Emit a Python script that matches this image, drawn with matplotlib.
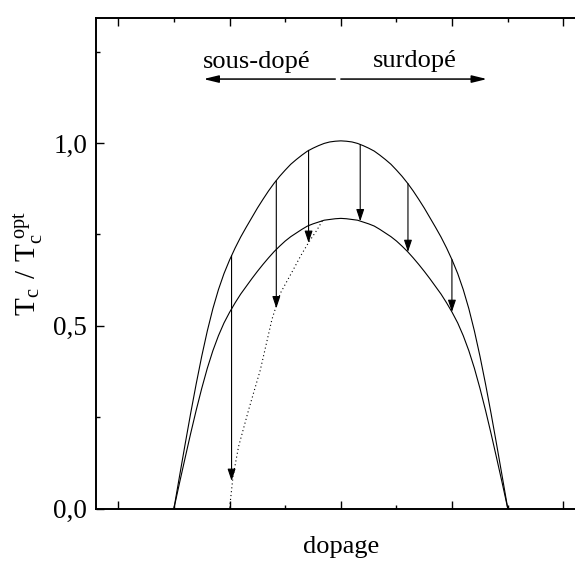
import matplotlib
matplotlib.use('Agg')
import matplotlib.pyplot as plt
from matplotlib.ticker import MultipleLocator

plt.rcParams['font.family'] = ['Liberation Serif', 'DejaVu Serif']
plt.rcParams['mathtext.fontset'] = 'custom'
plt.rcParams['mathtext.rm'] = 'Liberation Serif'
plt.rcParams['mathtext.it'] = 'Liberation Serif:italic'

# doping positions along the domes
dome_x = [0.50, 0.55, 0.60, 0.65, 0.70, 0.75, 0.80, 0.85, 0.90, 0.95,
          1.00, 1.05, 1.10, 1.15, 1.20, 1.25, 1.30, 1.35, 1.40, 1.45,
          1.50, 1.55, 1.60, 1.65, 1.70, 1.75, 1.80, 1.85, 1.90, 1.95,
          2.00, 2.05, 2.10, 2.15, 2.20, 2.25, 2.30, 2.35, 2.40, 2.45,
          2.50, 2.55, 2.60, 2.65, 2.70, 2.75, 2.80, 2.85, 2.90, 2.95,
          3.00, 3.05, 3.10, 3.15, 3.20, 3.25, 3.30, 3.35, 3.40, 3.45, 3.50]
# Tc/Tc_opt, outer dome
outer_y = [0.0, 0.088, 0.175, 0.260, 0.341, 0.417, 0.486, 0.547, 0.599, 0.643,
           0.680, 0.713, 0.743, 0.770, 0.796, 0.822, 0.846, 0.869, 0.890, 0.909,
           0.926, 0.942, 0.955, 0.967, 0.978, 0.986, 0.993, 0.999, 1.003, 1.005,
           1.006, 1.005, 1.003, 0.999, 0.993, 0.986, 0.978, 0.967, 0.955, 0.942,
           0.926, 0.909, 0.890, 0.869, 0.846, 0.822, 0.796, 0.770, 0.743, 0.713,
           0.680, 0.643, 0.599, 0.547, 0.486, 0.417, 0.341, 0.260, 0.175, 0.088, 0.0]
# inner dome
inner_y = [0.0, 0.070, 0.138, 0.205, 0.269, 0.329, 0.384, 0.432, 0.473, 0.508,
           0.537, 0.563, 0.587, 0.608, 0.629, 0.649, 0.668, 0.686, 0.703, 0.718,
           0.732, 0.744, 0.754, 0.764, 0.773, 0.779, 0.784, 0.789, 0.791, 0.793,
           0.794, 0.793, 0.791, 0.789, 0.784, 0.779, 0.773, 0.764, 0.754, 0.744,
           0.732, 0.718, 0.703, 0.686, 0.668, 0.649, 0.629, 0.608, 0.587, 0.563,
           0.537, 0.508, 0.473, 0.432, 0.384, 0.329, 0.269, 0.205, 0.138, 0.070, 0.0]

# dotted branch
dot_x = [1.833, 1.785, 1.710, 1.640, 1.575, 1.456, 1.381, 1.276, 1.171, 1.081,
         1.031, 1.0]
dot_y = [0.787, 0.762, 0.728, 0.692, 0.655, 0.589, 0.518, 0.379, 0.270, 0.170,
         0.088, 0.0]

# vertical arrows: x, start, end
arrow_x = [1.018, 1.420, 1.710, 2.174, 2.603, 2.998]
arrow_start = [0.692, 0.897, 0.980, 0.996, 0.889, 0.681]
arrow_end = [0.076, 0.548, 0.727, 0.786, 0.702, 0.538]

ytick_vals = [0.0, 0.5, 1.0]
ytick_labels = ['0,0', '0,5', '1,0']

fig = plt.figure(figsize=(5.75, 5.61), dpi=100)
ax = fig.add_axes([96 / 575, 52.3 / 561, 489.7 / 575, 490.7 / 561])

ax.plot(dome_x, outer_y, color='k', lw=0.8)
ax.plot(dome_x, inner_y, color='k', lw=0.8)
ax.plot(dot_x, dot_y, color='k', lw=0.8, linestyle=(0, (1, 2.5)))

for x, y0, y1 in zip(arrow_x, arrow_start, arrow_end):
    ax.annotate('', xy=(x, y1), xytext=(x, y0),
                arrowprops=dict(arrowstyle='-|>,head_length=0.72,head_width=0.24',
                                color='k', lw=0.8, shrinkA=0, shrinkB=0,
                                mutation_scale=10))

# doping direction arrows
ax.annotate('', xy=(0.766, 1.175), xytext=(1.95, 1.175),
            arrowprops=dict(arrowstyle='-|>,head_length=0.9,head_width=0.22',
                            color='k', lw=1.1, shrinkA=0, shrinkB=0,
                            mutation_scale=10))
ax.annotate('', xy=(3.313, 1.175), xytext=(2.0, 1.175),
            arrowprops=dict(arrowstyle='-|>,head_length=0.9,head_width=0.22',
                            color='k', lw=1.1, shrinkA=0, shrinkB=0,
                            mutation_scale=10))
ax.text(1.244, 1.205, 'sous-dopé', ha='center', va='baseline', fontsize=19)
ax.text(2.662, 1.209, 'surdopé', ha='center', va='baseline', fontsize=19)

ax.set_xlim(-0.2, 4.2)
ax.set_ylim(0, 1.342)
ax.xaxis.set_major_locator(MultipleLocator(1))
ax.xaxis.set_minor_locator(MultipleLocator(0.5))
ax.set_yticks(ytick_vals)
ax.set_yticklabels(ytick_labels)
ax.yaxis.set_minor_locator(MultipleLocator(0.25))
ax.tick_params(which='both', direction='in', top=True, right=True, width=1.0,
               labelbottom=False)
ax.tick_params(which='major', length=5.8, pad=6.3, labelsize=19.5)
ax.tick_params(which='minor', length=2.9)
for sp in ax.spines.values():
    sp.set_linewidth(1.4)

ax.set_xlabel('dopage', fontsize=19)
ax.xaxis.set_label_coords(0.5, -0.055)
ax.set_ylabel(r'$\mathregular{T_c\;\,/\;\,T_c^{\ opt}}$', fontsize=21)
ax.yaxis.set_label_coords(-0.105, 0.5)

fig.savefig('out.png', dpi=100)
